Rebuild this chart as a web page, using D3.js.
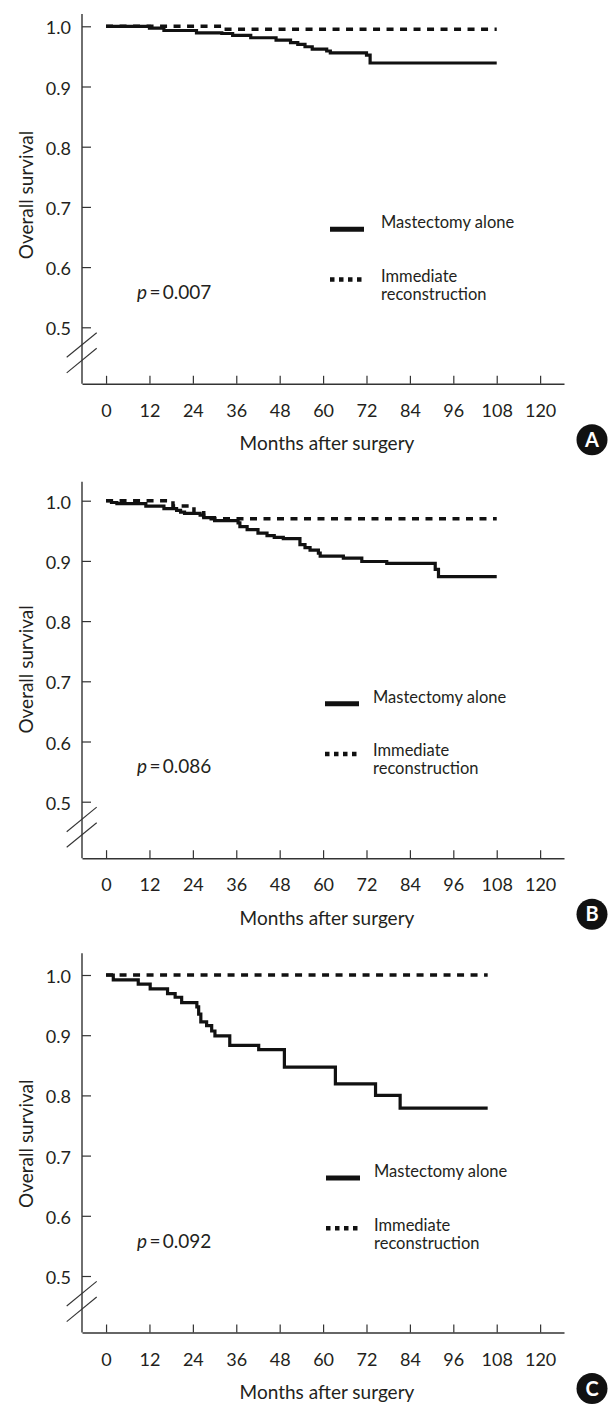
<!DOCTYPE html>
<html>
<head>
<meta charset="utf-8">
<title>Overall survival after mastectomy</title>
<style>
  body { margin: 0; background: #fff; }
  svg text { font-family: Lato, "Open Sans", sans-serif; fill: #231f20; }
</style>
</head>
<body>
<svg id="chart" width="616" height="1410"></svg>
<script src="https://d3js.org/d3.v7.min.js"></script>
<script>
// tick values and labels
var monthTicks = [0, 12, 24, 36, 48, 60, 72, 84, 96, 108, 120];
var survivalTicks = [0.5, 0.6, 0.7, 0.8, 0.9, 1.0];
var panelNames = ["A", "B", "C"];
var pValues = ["0.007", "0.086", "0.092"];
var seriesNames = ["Mastectomy alone", "Immediate reconstruction"];

// panel A (step curves)
var mastMonthsA = [0, 12, 16, 25, 32, 35, 40, 47, 51, 53, 55, 57, 61, 62, 72, 73, 108];
var mastSurvA = [1.0, 0.997, 0.993, 0.989, 0.988, 0.985, 0.981, 0.977, 0.973, 0.970, 0.966, 0.962, 0.959, 0.956, 0.952, 0.939, 0.939];
var reconMonthsA = [0, 32, 108];
var reconSurvA = [1.0, 0.995, 0.995];

// panel B
var mastMonthsB = [0, 1.5, 3, 11, 16, 19.5, 20.6, 21.7, 26, 27, 30, 36.5, 37, 39, 42, 44.5, 46.5, 49, 53.6, 55, 56.4, 58.7, 59.2, 65.6, 70.7, 77.6, 91, 91.9, 108];
var mastSurvB = [1.0, 0.997, 0.995, 0.991, 0.987, 0.984, 0.981, 0.979, 0.976, 0.972, 0.967, 0.963, 0.957, 0.952, 0.946, 0.942, 0.939, 0.937, 0.927, 0.922, 0.918, 0.913, 0.908, 0.9045, 0.899, 0.896, 0.886, 0.874, 0.874];
var reconMonthsB = [0, 18.5, 24.3, 27, 108];
var reconSurvB = [1.0, 0.991, 0.980, 0.970, 0.970];

// panel C
var mastMonthsC = [0, 2, 8.9, 12.2, 17, 19.1, 20.9, 25.1, 25.6, 26.2, 27.8, 29.2, 30.1, 34.2, 42.2, 49.3, 63.4, 74.5, 81.3, 105.5];
var mastSurvC = [1.0, 0.992, 0.985, 0.977, 0.969, 0.963, 0.954, 0.947, 0.935, 0.922, 0.916, 0.907, 0.899, 0.883, 0.876, 0.847, 0.819, 0.800, 0.779, 0.779];
var reconMonthsC = [0, 105.5];
var reconSurvC = [1.0, 1.0];

var mastData = [[mastMonthsA, mastSurvA], [mastMonthsB, mastSurvB], [mastMonthsC, mastSurvC]];
var reconData = [[reconMonthsA, reconSurvA], [reconMonthsB, reconSurvB], [reconMonthsC, reconSurvC]];

// layout of each panel: y of the 1.0 tick, top of the axis line, legend x
var layout = [
    { y10: 26.3, top: 14, lineX: 330, textX: 381 },
    { y10: 500.7, top: 481.7, lineX: 325, textX: 373 },
    { y10: 975, top: 953.3, lineX: 326, textX: 374 }
];

var svg = d3.select("#chart");
svg.append("rect").attr("width", 616).attr("height", 1410).attr("fill", "#fff");

var x = d3.scaleLinear().domain([-6.65, 126.6]).range([82, 564]);

function zip(a, b) {
    return a.map(function (d, i) { return [d, b[i]]; });
}

layout.forEach(function (p, i) {
    var y = d3.scaleLinear().domain([0.5, 1.0]).range([p.y10 + 301, p.y10]);
    var xAxisY = y(0.5) + 56.5;
    var g = svg.append("g");

    // y axis
    var yAxis = g.append("g")
        .attr("transform", "translate(" + x.range()[0] + ",0)")
        .call(d3.axisLeft(y).tickValues(survivalTicks).tickSize(-9).tickFormat(d3.format(".1f")));
    yAxis.select(".domain").remove();
    yAxis.selectAll("line").attr("stroke", "#333").attr("stroke-width", 1.2);
    yAxis.selectAll("text")
        .attr("x", -11).attr("dy", null).attr("y", 7.5)
        .style("font-size", "18px").style("font-family", "Lato, sans-serif").attr("fill", "#231f20");
    g.append("line")
        .attr("x1", x.range()[0]).attr("x2", x.range()[0])
        .attr("y1", p.top).attr("y2", xAxisY)
        .attr("stroke", "#333").attr("stroke-width", 1.4);

    // axis break marks
    [0, 15.6].forEach(function (off) {
        g.append("line")
            .attr("x1", 96.7).attr("y1", y(0.5) + 5.4 + off)
            .attr("x2", 66.7).attr("y2", y(0.5) + 30 + off)
            .attr("stroke", "#333").attr("stroke-width", 1.1);
    });

    // x axis
    var xAxis = g.append("g")
        .attr("transform", "translate(0," + xAxisY + ")")
        .call(d3.axisBottom(x).tickValues(monthTicks).tickSize(-8).tickSizeOuter(0));
    xAxis.select(".domain").attr("stroke", "#333").attr("stroke-width", 1.6);
    xAxis.selectAll("line").attr("stroke", "#333").attr("stroke-width", 1.2);
    xAxis.selectAll("text")
        .attr("y", 33).attr("dy", null)
        .style("font-size", "18px").style("font-family", "Lato, sans-serif").attr("fill", "#231f20");

    // axis titles
    g.append("text")
        .attr("transform", "translate(33," + (p.y10 + 168.7) + ") rotate(-90)")
        .attr("text-anchor", "middle")
        .style("font-size", "19px")
        .text("Overall survival");
    g.append("text")
        .attr("x", 327).attr("y", xAxisY + 66.5)
        .attr("text-anchor", "middle")
        .style("font-size", "19px")
        .text("Months after surgery");

    // curves
    var line = d3.line()
        .x(function (d) { return x(d[0]); })
        .y(function (d) { return y(d[1]); })
        .curve(d3.curveStepAfter);

    g.append("path")
        .datum(zip(reconData[i][0], reconData[i][1]))
        .attr("d", line)
        .attr("fill", "none").attr("stroke", "#111")
        .attr("stroke-width", 3.5).attr("stroke-dasharray", "7,6.5");
    g.append("path")
        .datum(zip(mastData[i][0], mastData[i][1]))
        .attr("d", line)
        .attr("fill", "none").attr("stroke", "#111")
        .attr("stroke-width", 3.2);

    // legend
    g.append("line")
        .attr("x1", p.lineX).attr("x2", p.lineX + 34)
        .attr("y1", p.y10 + 203).attr("y2", p.y10 + 203)
        .attr("stroke", "#111").attr("stroke-width", 5);
    g.append("text")
        .attr("x", p.textX).attr("y", p.y10 + 202)
        .style("font-size", "16.5px")
        .text(seriesNames[0]);
    g.append("line")
        .attr("x1", p.lineX).attr("x2", p.lineX + 32)
        .attr("y1", p.y10 + 253.3).attr("y2", p.y10 + 253.3)
        .attr("stroke", "#111").attr("stroke-width", 4.5).attr("stroke-dasharray", "4.5,4.5");
    var words = seriesNames[1].split(" ");
    g.append("text")
        .attr("x", p.textX).attr("y", p.y10 + 255.5)
        .style("font-size", "16.5px")
        .text(words[0]);
    g.append("text")
        .attr("x", p.textX).attr("y", p.y10 + 273.5)
        .style("font-size", "16.5px")
        .text(words[1]);

    // p value
    var pt = g.append("text")
        .attr("x", 137).attr("y", p.y10 + 272.5)
        .style("font-size", "19px");
    pt.append("tspan").style("font-style", "italic").text("p");
    pt.append("tspan").text("\u2009=\u2009" + pValues[i]);

    // panel letter
    g.append("circle")
        .attr("cx", 592).attr("cy", xAxisY + 56)
        .attr("r", 15.5).attr("fill", "#111");
    g.append("text")
        .attr("x", 592).attr("y", xAxisY + 56 + 7)
        .attr("text-anchor", "middle")
        .style("font-size", "20px").style("font-weight", "bold")
        .attr("fill", "#fff").style("fill", "#fff")
        .text(panelNames[i]);
});
</script>
</body>
</html>
